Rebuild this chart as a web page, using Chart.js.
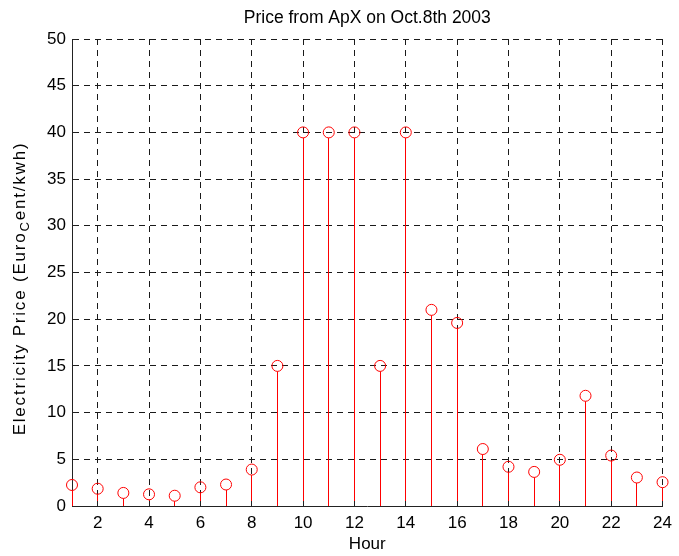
<!DOCTYPE html>
<html>
<head>
<meta charset="utf-8">
<title>Price from ApX on Oct.8th 2003</title>
<script src="https://cdn.jsdelivr.net/npm/chart.js@4.4.1/dist/chart.umd.min.js"></script>
<style>
  html, body { margin: 0; padding: 0; background: #fff; }
  canvas { display: block; }
</style>
</head>
<body>
<canvas id="chart" width="679" height="556"></canvas>
<script>
// Hourly APX price, 8 Oct 2003
const hours = [1, 2, 3, 4, 5, 6, 7, 8, 9, 10, 11, 12, 13, 14, 15, 16, 17, 18, 19, 20, 21, 22, 23, 24]
const prices = [2.25, 1.85, 1.4, 1.25, 1.1, 2.0, 2.3, 3.9, 15, 40, 40, 40, 15, 40, 21, 19.6, 6.1, 4.2, 3.65, 4.95, 11.8, 5.4, 3.05, 2.55]

const xTickValues = [2, 4, 6, 8, 10, 12, 14, 16, 18, 20, 22, 24]
const yTickValues = [0, 5, 10, 15, 20, 25, 30, 35, 40, 45, 50]

const FONT = "'Liberation Sans', Arial, Helvetica, sans-serif"
const STEM_COLOR = "#ff0000"
const GRID_COLOR = "#1a1a1a"
const AXIS_COLOR = "#222"
const MARKER_RADIUS = 5.5

// stems from the zero baseline up to the bottom of each marker
const stemLines = {
  id: "stemLines",
  beforeDatasetsDraw(chart) {
    const ctx = chart.ctx
    const y0 = chart.scales.y.getPixelForValue(0)
    const meta = chart.getDatasetMeta(0)
    ctx.save()
    ctx.strokeStyle = STEM_COLOR
    ctx.lineWidth = 1
    meta.data.forEach(pt => {
      const x = Math.floor(pt.x) + 0.5
      ctx.beginPath()
      ctx.moveTo(x, y0)
      ctx.lineTo(x, pt.y + MARKER_RADIUS)
      ctx.stroke()
    })
    ctx.restore()
  },
}

// short inward tick marks, matlab style
const innerTicks = {
  id: "innerTicks",
  beforeDatasetsDraw(chart) {
    const { ctx, chartArea, scales } = chart
    const len = 5
    ctx.save()
    ctx.strokeStyle = AXIS_COLOR
    ctx.lineWidth = 1
    ctx.beginPath()
    scales.y.ticks.forEach(t => {
      const y = Math.round(scales.y.getPixelForValue(t.value) - 0.5) + 0.5
      ctx.moveTo(chartArea.left, y)
      ctx.lineTo(chartArea.left + len, y)
    })
    scales.x.ticks.forEach(t => {
      const x = Math.round(scales.x.getPixelForValue(t.value) - 0.5) + 0.5
      ctx.moveTo(x, chartArea.bottom)
      ctx.lineTo(x, chartArea.bottom - len)
    })
    ctx.stroke()
    ctx.restore()
  },
}

// y axis title has a subscript in it, so it is drawn by hand
const yAxisLabel = {
  id: "yAxisLabel",
  afterDraw(chart) {
    const ctx = chart.ctx
    const parts = [
      { text: "Electricity Price (Euro", size: 17, shift: 0 },
      { text: "C", size: 13, shift: 4 },
      { text: "ent/kwh)", size: 17, shift: 0 },
    ]
    ctx.save()
    ctx.fillStyle = "#000"
    ctx.textBaseline = "alphabetic"
    ctx.letterSpacing = "1.8px"
    let total = 0
    parts.forEach(p => {
      ctx.font = p.size + "px " + FONT
      p.width = ctx.measureText(p.text).width
      total += p.width
    })
    ctx.translate(25, 288.5)
    ctx.rotate(-Math.PI / 2)
    let x = -total / 2
    parts.forEach(p => {
      ctx.font = p.size + "px " + FONT
      ctx.fillText(p.text, x, p.shift)
      x += p.width
    })
    ctx.restore()
  },
}

const tickFont = { family: FONT, size: 17 }

new Chart(document.getElementById("chart"), {
  type: "scatter",
  data: {
    datasets: [{
      data: hours.map((h, i) => ({ x: h, y: prices[i] })),
      pointStyle: "circle",
      pointRadius: MARKER_RADIUS,
      pointHoverRadius: MARKER_RADIUS,
      borderColor: STEM_COLOR,
      backgroundColor: "rgba(0,0,0,0)",
      borderWidth: 1,
      clip: false,
    }],
  },
  options: {
    responsive: false,
    animation: false,
    events: [],
    layout: { padding: { top: 0, right: 12, bottom: 0, left: 0 } },
    plugins: {
      legend: { display: false },
      tooltip: { enabled: false },
      title: {
        display: true,
        text: "Price from ApX on Oct.8th 2003",
        color: "#000",
        fullSize: false,
        font: { family: FONT, size: 17.5, weight: "normal", lineHeight: "17px" },
        padding: { top: 10, bottom: 12 },
      },
    },
    scales: {
      x: {
        type: "linear",
        min: 1,
        max: 24,
        offset: false,
        afterBuildTicks: s => { s.ticks = xTickValues.map(v => ({ value: v })) },
        afterFit: s => { s.height = 50 },
        grid: { color: GRID_COLOR, lineWidth: 1, drawTicks: false },
        border: { display: true, color: AXIS_COLOR, width: 1, dash: [6, 5] },
        ticks: { color: "#000", font: tickFont, padding: 7, maxRotation: 0, autoSkip: false },
        title: {
          display: true,
          text: "Hour",
          color: "#000",
          font: { family: FONT, size: 17 },
          padding: { top: 0, bottom: 1 },
        },
      },
      y: {
        min: 0,
        max: 50,
        afterBuildTicks: s => { s.ticks = yTickValues.map(v => ({ value: v })) },
        afterFit: s => { s.width = 72 },
        grid: { color: GRID_COLOR, lineWidth: 1, drawTicks: false },
        border: { display: true, color: AXIS_COLOR, width: 1, dash: [6, 5] },
        ticks: { color: "#000", font: tickFont, padding: 6, autoSkip: false },
      },
    },
  },
  plugins: [stemLines, innerTicks, yAxisLabel],
})
</script>
</body>
</html>
